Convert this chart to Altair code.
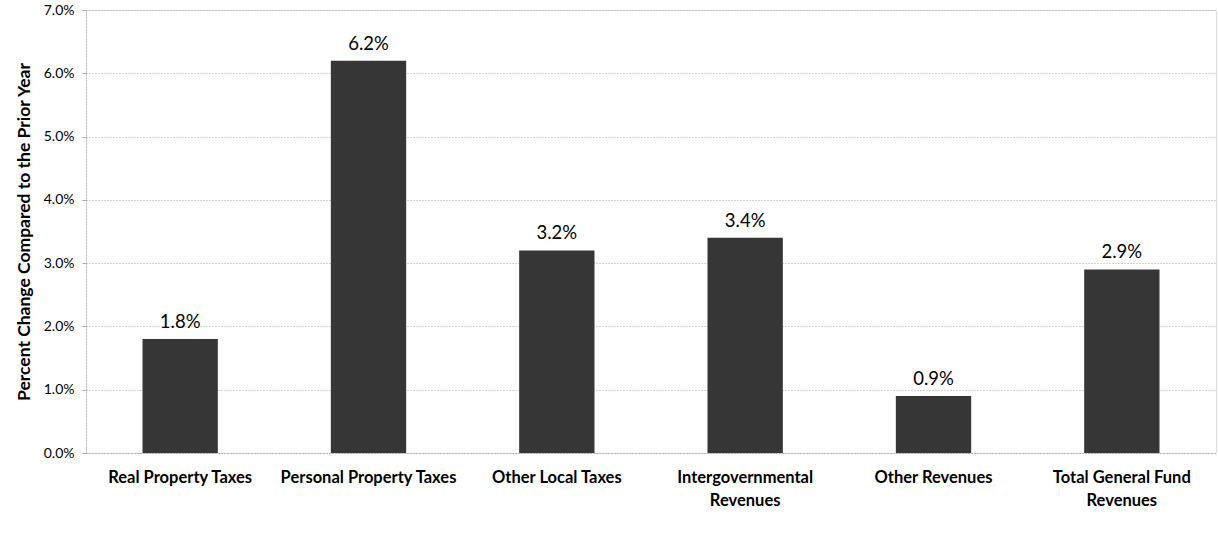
import altair as alt
import pandas as pd

categories = ["Real Property Taxes", "Personal Property Taxes", "Other Local Taxes",
              "Intergovernmental|Revenues", "Other Revenues", "Total General Fund|Revenues"]
values = [0.018, 0.062, 0.032, 0.034, 0.009, 0.029]
y_ticks = [0, 0.01, 0.02, 0.03, 0.04, 0.05, 0.06, 0.07]

df = pd.DataFrame({"category": categories, "value": values})

FONT = "Lato"

x = alt.X("category:N", sort=categories, title=None,
          scale=alt.Scale(paddingInner=0.6, paddingOuter=0.3),
          axis=alt.Axis(labelExpr="split(datum.label, '|')", labelAngle=0,
                        labelFontWeight="bold", labelFontSize=16.5, labelFont=FONT,
                        labelColor="#000", labelPadding=16, labelLineHeight=23,
                        domainColor="#aaa", domainDash=[1, 2], ticks=False))
y = alt.Y("value:Q", title="Percent Change Compared to the Prior Year",
          scale=alt.Scale(domain=[0, 0.07], nice=False),
          axis=alt.Axis(values=y_ticks, format=".1%", labelFont=FONT, labelFontSize=14,
                        labelColor="#000", titleFont=FONT, titleFontSize=17.5,
                        titleFontWeight="bold", titleColor="#000", titlePadding=10,
                        grid=True, gridColor="#aaa", gridDash=[1, 2],
                        domainColor="#aaa", domainDash=[1, 2], tickColor="#aaa",
                        tickSize=4, labelPadding=8))

bars = alt.Chart(df).mark_bar(color="#363636").encode(x=x, y=y)
text = alt.Chart(df).mark_text(dy=-7, baseline="bottom", fontSize=18.5, font=FONT, color="#000").encode(
    x=alt.X("category:N", sort=categories), y="value:Q", text=alt.Text("value:Q", format=".1%"))

chart = (bars + text).properties(
    width=1130, height=443,
    autosize=alt.AutoSizeParams(type="none"),
    padding={"left": 86, "top": 10, "right": 2, "bottom": 89},
).configure_view(stroke=None).configure(background="white")

chart.save("out.html", embed_options={"renderer": "svg", "actions": False})
